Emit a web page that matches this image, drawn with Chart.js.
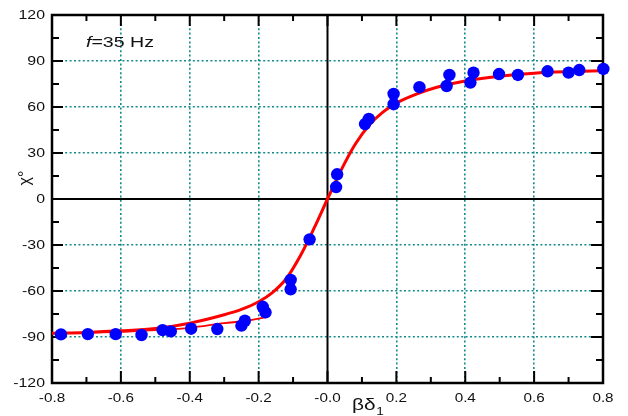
<!DOCTYPE html>
<html>
<head>
<meta charset="utf-8">
<script src="https://cdn.jsdelivr.net/npm/chart.js@4.4.1/dist/chart.umd.min.js"></script>
<style>
    html, body { margin: 0; padding: 0; background: #fff; }
    canvas { display: block; }
</style>
</head>
<body>
<canvas id="chiChart" width="628" height="416"></canvas>
<script>
// --------------------
// Data
// --------------------
const pointX = [-0.774, -0.696, -0.615, -0.540, -0.479, -0.455, -0.396, -0.320, -0.250, -0.240,
                -0.188, -0.180, -0.107, -0.107, -0.052,
                0.025, 0.028, 0.109, 0.120, 0.192, 0.192, 0.267, 0.346, 0.354, 0.415, 0.424,
                0.498, 0.553, 0.639, 0.700, 0.731, 0.801];
const pointY = [-88.3, -88.1, -88.1, -88.7, -85.5, -86.3, -84.6, -84.8, -82.6, -79.4,
                -70.3, -73.9, -52.8, -58.9, -26.3,
                7.8, 16.1, 48.9, 52.2, 61.8, 68.5, 72.9, 73.7, 80.9, 75.9, 82.4,
                81.5, 80.9, 83.3, 82.4, 84.1, 84.8];

// fitted curve (red, thick)
const fitX = [-0.8, -0.7, -0.6, -0.5, -0.4, -0.3, -0.25, -0.2, -0.16, -0.12, -0.08, -0.04,
              0, 0.04, 0.08, 0.12, 0.16, 0.2, 0.26, 0.32, 0.4, 0.5, 0.6, 0.7, 0.8];
const fitY = [-87.5, -87, -86, -84.5, -81, -75.5, -72, -67, -61, -52, -37.5, -19.5,
              0, 19, 35.5, 48, 56.5, 62.5, 68.5, 73, 77, 80, 82, 83, 83.6];

// lower branch (red, thin)
const branchX = [-0.8, -0.6, -0.5, -0.4, -0.3, -0.235, -0.177];
const branchY = [-87.6, -86.6, -85.5, -84, -81, -79.4, -77];

const xTickLabels = ["-0.8", "-0.6", "-0.4", "-0.2", "-0.0", "0.2", "0.4", "0.6", "0.8"];
const yTickLabels = ["-120", "-90", "-60", "-30", "0", "30", "60", "90", "120"];

const FONT = '"Liberation Sans", Arial, sans-serif';

function toPoints(xs, ys) {
    return xs.map((x, i) => ({ x: x, y: ys[i] }));
}

// text in the figure is a bit wider than tall, so stretch it a little
function wideText(ctx, text, x, y, align, size, sx, style) {
    ctx.save();
    ctx.font = (style || "") + " " + size + "px " + FONT;
    ctx.textAlign = align;
    ctx.textBaseline = "middle";
    ctx.translate(x, y);
    ctx.scale(sx, 1);
    ctx.fillText(text, 0, 0);
    ctx.restore();
}

function line(ctx, x1, y1, x2, y2) {
    ctx.beginPath();
    ctx.moveTo(x1, y1);
    ctx.lineTo(x2, y2);
    ctx.stroke();
}

// --------------------
// Frame, zero lines, inward ticks, labels
// --------------------
const axisDecor = {
    id: "axisDecor",
    beforeDatasetsDraw(chart) {
        const ctx = chart.ctx;
        const a = chart.chartArea;
        const xs = chart.scales.x;
        const ys = chart.scales.y;
        ctx.save();
        ctx.strokeStyle = "#000";

        // zero lines
        ctx.lineWidth = 2;
        const x0 = xs.getPixelForValue(0);
        const y0 = ys.getPixelForValue(0);
        line(ctx, x0, a.top, x0, a.bottom);
        line(ctx, a.left, y0, a.right, y0);

        // box
        ctx.lineWidth = 2.5;
        ctx.strokeRect(a.left, a.top, a.right - a.left, a.bottom - a.top);

        // ticks pointing inward
        ctx.lineWidth = 2;
        xs.ticks.forEach((t, i) => {
            const px = xs.getPixelForValue(t.value);
            line(ctx, px, a.bottom, px, a.bottom - 12);
            line(ctx, px, a.top, px, a.top + 11);
            if (i < xs.ticks.length - 1) {
                const m = xs.getPixelForValue((t.value + xs.ticks[i + 1].value) / 2);
                line(ctx, m, a.bottom, m, a.bottom - 6);
                line(ctx, m, a.top, m, a.top + 6);
            }
        });
        ys.ticks.forEach((t, i) => {
            const py = ys.getPixelForValue(t.value);
            line(ctx, a.left, py, a.left + 11, py);
            line(ctx, a.right, py, a.right - 12, py);
            if (i < ys.ticks.length - 1) {
                const m = ys.getPixelForValue((t.value + ys.ticks[i + 1].value) / 2);
                line(ctx, a.left, m, a.left + 7, m);
                line(ctx, a.right, m, a.right - 7, m);
            }
        });
        ctx.restore();
    },
    afterDraw(chart) {
        const ctx = chart.ctx;
        const a = chart.chartArea;
        const xs = chart.scales.x;
        const ys = chart.scales.y;
        ctx.save();
        ctx.fillStyle = "#111";

        // tick labels
        ys.ticks.forEach((t, i) => {
            wideText(ctx, yTickLabels[i], a.left - 7, ys.getPixelForValue(t.value) + 1, "right", 12.5, 1.27);
        });
        xs.ticks.forEach((t, i) => {
            wideText(ctx, xTickLabels[i], xs.getPixelForValue(t.value), a.bottom + 16, "center", 12.5, 1.22);
        });

        // annotation f=35 Hz
        ctx.save();
        ctx.font = "italic 14.5px " + FONT;
        const fw = ctx.measureText("f").width * 1.35;
        ctx.restore();
        wideText(ctx, "f", 86, 43, "left", 14.5, 1.35, "italic");
        wideText(ctx, "=35 Hz", 86 + fw, 43, "left", 14.5, 1.35);

        // y title
        ctx.save();
        ctx.translate(26, 178);
        ctx.rotate(-Math.PI / 2);
        ctx.font = "16px " + FONT;
        ctx.textAlign = "center";
        ctx.textBaseline = "middle";
        ctx.fillText("χ°", 0, 0);
        ctx.restore();

        // x title
        ctx.save();
        ctx.font = "16px " + FONT;
        ctx.textAlign = "left";
        ctx.textBaseline = "alphabetic";
        ctx.translate(352, 410);
        ctx.scale(1.3, 1);
        ctx.fillText("βδ", 0, 0);
        const w = ctx.measureText("βδ").width;
        ctx.font = "10.5px " + FONT;
        ctx.fillText("1", w + 0.5, 5);
        ctx.restore();

        ctx.restore();
    }
};

// --------------------
// Build chart
// --------------------
function drawChart() {
    const ctx = document.getElementById("chiChart").getContext("2d");

    new Chart(ctx, {
        type: "scatter",
        data: {
            datasets: [
                {
                    label: "data",
                    data: toPoints(pointX, pointY),
                    backgroundColor: "#0000ff",
                    borderColor: "#0000ff",
                    pointRadius: 6.2,
                    pointBorderWidth: 0,
                    clip: false,
                    order: 0
                },
                {
                    label: "fit",
                    data: toPoints(fitX, fitY),
                    showLine: true,
                    borderColor: "#ff0000",
                    borderWidth: 3,
                    pointRadius: 0,
                    cubicInterpolationMode: "monotone",
                    order: 1
                },
                {
                    label: "branch",
                    data: toPoints(branchX, branchY),
                    showLine: true,
                    borderColor: "#ff0000",
                    borderWidth: 1.8,
                    pointRadius: 0,
                    cubicInterpolationMode: "monotone",
                    order: 2
                }
            ]
        },
        options: {
            responsive: false,
            animation: false,
            devicePixelRatio: 1,
            layout: { padding: { top: 15, right: 25, left: 0, bottom: 0 } },
            plugins: {
                legend: { display: false },
                tooltip: { enabled: false }
            },
            scales: {
                x: {
                    type: "linear",
                    min: -0.8,
                    max: 0.8,
                    ticks: { stepSize: 0.2, display: false },
                    grid: {
                        color: (c) => (c.tick && Math.abs(c.tick.value) < 1e-9) ? "rgba(0,0,0,0)" : "#138a8a",
                        lineWidth: 1.6,
                        drawTicks: false
                    },
                    border: { display: false, dash: [2, 2.4] },
                    afterFit: (s) => { s.height = 33; }
                },
                y: {
                    type: "linear",
                    min: -120,
                    max: 120,
                    ticks: { stepSize: 30, display: false },
                    grid: {
                        color: (c) => (c.tick && c.tick.value === 0) ? "rgba(0,0,0,0)" : "#138a8a",
                        lineWidth: 1.6,
                        drawTicks: false
                    },
                    border: { display: false, dash: [2, 2.4] },
                    afterFit: (s) => { s.width = 52; }
                }
            }
        },
        plugins: [axisDecor]
    });
}

document.addEventListener("DOMContentLoaded", drawChart);
</script>
</body>
</html>
